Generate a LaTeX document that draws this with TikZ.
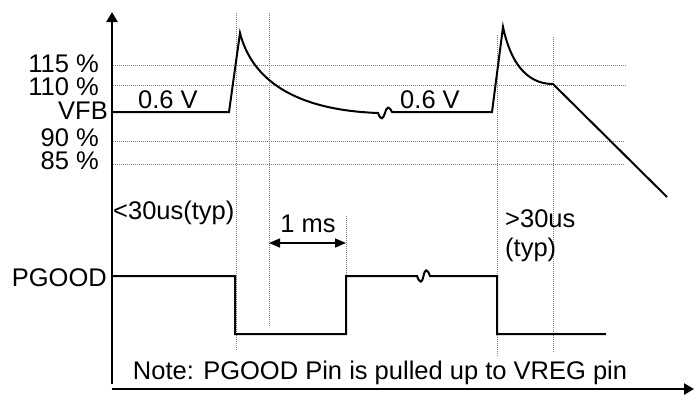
\documentclass[tikz,border=0pt]{standalone}
\usepackage{fontspec}
\setmainfont{Liberation Sans}
\usetikzlibrary{arrows.meta}
\tikzset{
  axis/.style={line width=2.6pt, -{Triangle[length=10pt,width=11pt]}},
  wave/.style={line width=2pt},
  guide/.style={gray, line width=1pt, dash pattern=on 1pt off 1pt},
  span/.style={line width=1.5pt, {Triangle[length=11pt,width=9pt]}-{Triangle[length=11pt,width=9pt]}},
  txt/.style={inner sep=0pt, font=\fontsize{25.5}{29}\selectfont},
}

\begin{document}
\begin{tikzpicture}[x=1pt,y=-1pt]
      \useasboundingbox (0,0) rectangle (695,394);

      % guide lines
      \foreach \y in {65,85} \draw[guide] (113,\y) -- (626,\y);
      \foreach \y in {141,164} \draw[guide] (113,\y) -- (624,\y);
      \draw[guide] (236,13) -- (236,350);
      \draw[guide] (269,13) -- (269,327);
      \draw[guide] (346,216) -- (346,334);
      \draw[guide] (497,35) -- (497,357);
      \draw[guide] (553,37) -- (553,352);

      % axes
      \coordinate (ybot) at (112,384);
      \coordinate (ytop) at (112,12);
      \coordinate (xbeg) at (112,389);
      \coordinate (xend) at (694,389);
      \draw[axis] (ybot) -- (ytop);
      \draw[axis] (xbeg) -- (xend);

      % VFB
      \draw[wave] (113,112) -- (229,112) -- (240,33)
        .. controls (252,80) and (295,110) .. (378,113)
        .. controls (381,121) and (383,119) .. (385,113)
        .. controls (387,106) and (389,106) .. (392,112)
        -- (492,112) -- (503,27)
        .. controls (510,60) and (525,84) .. (553,84) -- (667,197);

      % PGOOD
      \draw[wave] (113,276) -- (235,276) -- (235,334) -- (346,334) -- (346,276) -- (417,276)
        .. controls (420,284) and (422,283) .. (423.5,276)
        .. controls (425,269) and (427,268) .. (430,276)
        -- (497,276) -- (497,334) -- (606,334);

      % 1 ms
      \coordinate (msa) at (269,243);
      \coordinate (msb) at (346,243);
      \draw[span] (msa) -- (msb);

      % labels
      \node[txt, anchor=east] (p115) at (99,64) {115 \%};
      \node[txt, anchor=east] (p110) at (99,87) {110 \%};
      \node[txt, anchor=east] (vfb) at (108,111) {VFB};
      \node[txt, anchor=east] (p90) at (99,138) {90 \%};
      \node[txt, anchor=east] (p85) at (99,161) {85 \%};
      \node[txt, anchor=east] (pgood) at (107,278) {PGOOD};
      \node[txt, anchor=base] (vrefa) at (168,108) {0.6 V};
      \node[txt, anchor=base] (vrefb) at (430,108) {0.6 V};
      \node[txt, anchor=base west] (tfall) at (113,219) {<30us(typ)};
      \node[txt, anchor=base] (tdelay) at (308,232) {1 ms};
      \node[txt, anchor=north west, align=left] (trise) at (505,209) {>30us\\(typ)};
      \node[txt, anchor=base] (note) at (380,379) {Note: PGOOD Pin is pulled up to VREG pin};
\end{tikzpicture}
\end{document}
